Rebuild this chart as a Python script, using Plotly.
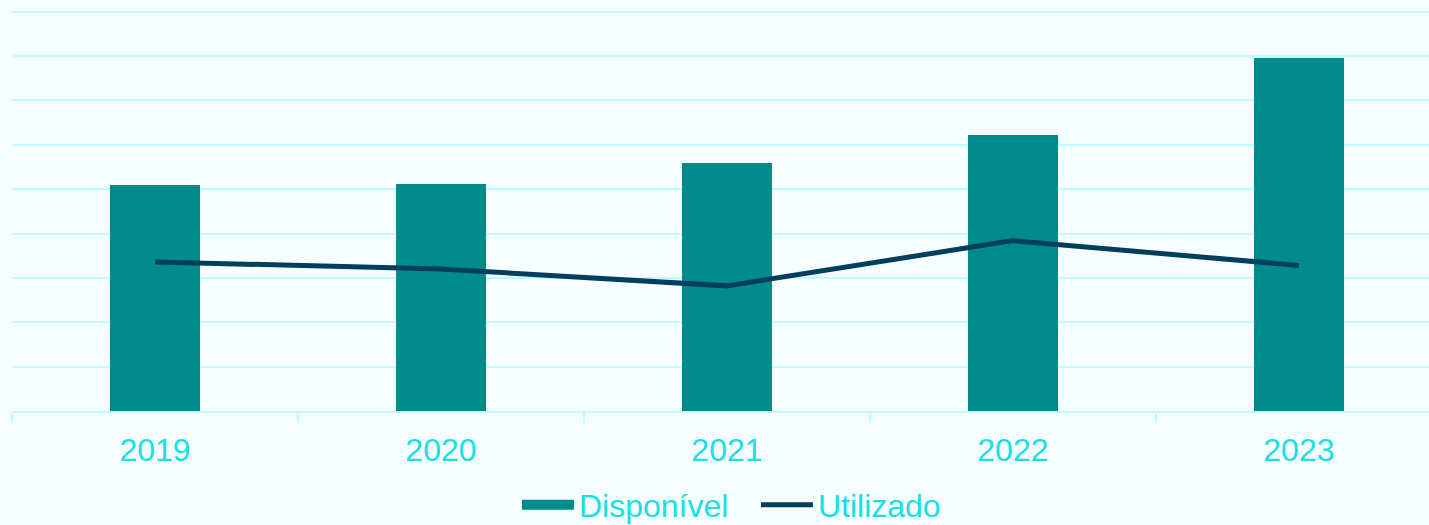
import plotly.graph_objects as go

years = ["2019", "2020", "2021", "2022", "2023"]
disponivel = [255, 256, 280, 311, 398]
utilizado = [168, 160, 141, 192, 164]

BG = "#F7FEFF"
GRID = "#BDFCFF"
BAR = "#008B8B"
LINE = "#023E5E"
TXT = "#18E0E3"
FONT = "Liberation Sans, Arial, sans-serif"

fig = go.Figure()
fig.add_trace(go.Bar(x=years, y=disponivel, name="Disponível", showlegend=False,
                     marker=dict(color=BAR, line=dict(width=0)), width=0.315))
# legend proxy with a wide swatch for the bar series
fig.add_trace(go.Scatter(x=[None], y=[None], name="Disponível", mode="lines",
                         line=dict(color=BAR, width=16), hoverinfo="skip"))
fig.add_trace(go.Scatter(x=years, y=utilizado, name="Utilizado", mode="lines",
                         line=dict(color=LINE, width=5)))

fig.update_layout(
    width=1429, height=525,
    paper_bgcolor=BG, plot_bgcolor=BG,
    margin=dict(l=12, r=0, t=9, b=114, autoexpand=False),
    font=dict(family=FONT, color=TXT, size=32),
    showlegend=True,
    legend=dict(orientation="h", x=0.525, xanchor="center", y=-0.234, yanchor="middle",
                font=dict(size=32, color=TXT), bgcolor="rgba(0,0,0,0)",
                itemwidth=52, entrywidth=172, entrywidthmode="pixels", tracegroupgap=0),
    bargap=0,
)
fig.update_xaxes(range=[-0.5, 4.455], showline=True, linecolor=GRID, linewidth=2,
                 ticks="outside", tickson="boundaries", ticklen=10, tickcolor=GRID,
                 tickwidth=2, tickfont=dict(size=32, color=TXT), showgrid=False,
                 ticklabelstandoff=10, fixedrange=True)
fig.update_yaxes(range=[0, 453], dtick=50, showgrid=True, gridcolor=GRID, gridwidth=2,
                 showticklabels=False, zeroline=False, ticks="")

fig.write_html("out.html", config={"displayModeBar": False},
               post_script="document.body.style.margin='0';")
